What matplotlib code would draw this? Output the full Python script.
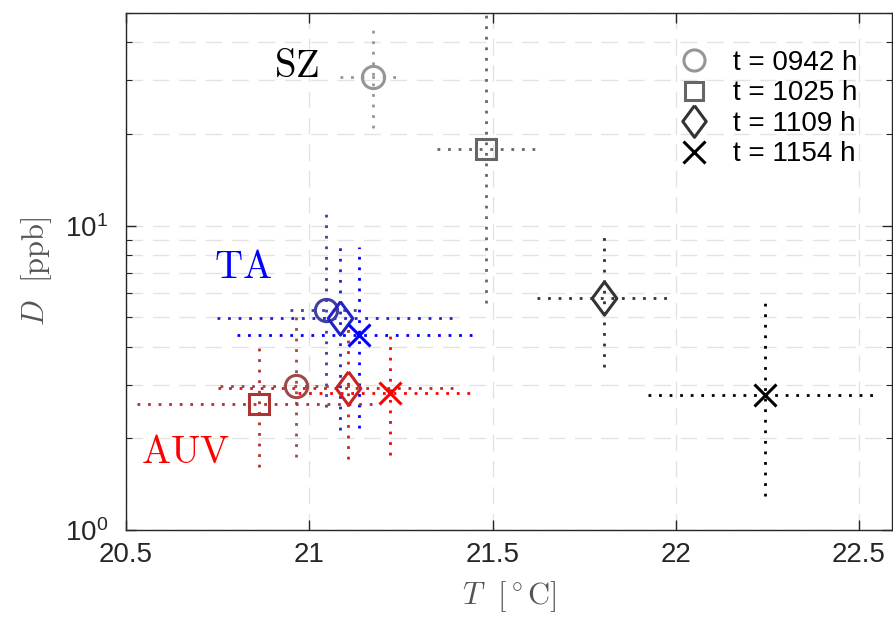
import numpy as np
import matplotlib
matplotlib.use('Agg')
import matplotlib.pyplot as plt
from matplotlib.lines import Line2D
from matplotlib.ticker import LogLocator, NullFormatter

plt.rcParams['font.family'] = ['Liberation Sans', 'DejaVu Sans']

# ---- data ----
times = ['0942', '1025', '1109', '1154']
nan = np.nan

sz_T = [21.174, 21.482, 21.804, 22.243]
sz_D = [30.9, 17.8, 5.8, 2.78]
sz_T_lo = [21.084, 21.349, 21.621, 21.924]
sz_T_hi = [21.248, 21.616, 21.990, 22.549]
sz_D_lo = [21.0, 5.58, 3.44, 1.29]
sz_D_hi = [44.1, 60.0, 9.48, 5.89]

ta_T = [21.045, nan, 21.084, 21.136]
ta_D = [5.3, nan, 4.98, 4.38]
ta_T_lo = [20.947, nan, 20.748, 20.803]
ta_T_hi = [21.133, nan, 21.403, 21.458]
ta_D_lo = [2.54, nan, 2.13, 2.16]
ta_D_hi = [10.9, nan, 8.53, 8.53]

auv_T = [20.963, 20.863, 21.105, 21.220]
auv_D = [2.98, 2.6, 2.93, 2.82]
auv_T_lo = [20.756, 20.530, 20.75, 20.97]
auv_T_hi = [21.152, 21.185, 21.40, 21.44]
auv_D_lo = [1.74, 1.61, 1.71, 1.77]
auv_D_hi = [5.17, 4.12, 4.72, 4.55]

# ---- styles ----
diamond = [(0, 1), (0.74, 0), (0, -1), (-0.74, 0), (0, 1)]
markers = ['o', 's', diamond, 'x']
msizes = [16, 14, 24, 16]
sz_colors = ['#969696', '#666666', '#333333', '#000000']
ta_colors = ['#40409c', '#2222cc', '#2222cc', '#0000ff']
auv_colors = ['#9c4a4a', '#b03333', '#c82222', '#ff0000']
dot = (0, (1, 2.8))

fig = plt.figure(figsize=(8.93, 6.2), dpi=100)
ax = fig.add_axes([0.1411, 0.1452, 0.8578, 0.8339])


def draw_group(T, D, Tlo, Thi, Dlo, Dhi, colors):
    for i in range(len(T)):
        if np.isnan(T[i]):
            continue
        c = colors[i]
        ax.plot([Tlo[i], Thi[i]], [D[i], D[i]], linestyle=dot, color=c, lw=2, zorder=2)
        ax.plot([T[i], T[i]], [Dlo[i], Dhi[i]], linestyle=dot, color=c, lw=2, zorder=2)
        ax.plot(T[i], D[i], linestyle='none', marker=markers[i], ms=msizes[i],
                mfc='none', mec=c, mew=2.2, zorder=3)


draw_group(sz_T, sz_D, sz_T_lo, sz_T_hi, sz_D_lo, sz_D_hi, sz_colors)
draw_group(ta_T, ta_D, ta_T_lo, ta_T_hi, ta_D_lo, ta_D_hi, ta_colors)
draw_group(auv_T, auv_D, auv_T_lo, auv_T_hi, auv_D_lo, auv_D_hi, auv_colors)

# group labels
ax.text(20.964, 33.3, r'$\mathrm{SZ}$', color='black', fontsize=28,
        ha='center', va='center', math_fontfamily='cm')
ax.text(20.819, 7.27, r'$\mathrm{TA}$', color='#0000ff', fontsize=28,
        ha='center', va='center', math_fontfamily='cm')
ax.text(20.661, 1.79, r'$\mathrm{AUV}$', color='#ff0000', fontsize=28,
        ha='center', va='center', math_fontfamily='cm')

ax.set_yscale('log')
ax.set_xlim(20.5, 22.59)
ax.set_ylim(1, 50)
ax.set_xticks([20.5, 21, 21.5, 22, 22.5])
ax.set_xticklabels(['20.5', '21', '21.5', '22', '22.5'])
ax.yaxis.set_major_locator(LogLocator(base=10))
ax.yaxis.set_minor_locator(LogLocator(base=10, subs=np.arange(2, 10)))
ax.yaxis.set_minor_formatter(NullFormatter())

ax.tick_params(which='both', direction='in', top=True, right=True,
               labelsize=20, colors='#262626')
ax.tick_params(which='major', length=7, width=1)
ax.tick_params(which='minor', length=4, width=0.8)
ax.tick_params(axis='x', pad=9)
ax.tick_params(axis='y', pad=13)
for s in ax.spines.values():
    s.set_color('#262626')
    s.set_linewidth(1)

ax.grid(True, which='major', axis='x', color='#e3e3e3', lw=1, ls=(0, (12, 7)))
ax.grid(True, which='both', axis='y', color='#e3e3e3', lw=1, ls=(0, (12, 7)))
ax.set_axisbelow(True)

ax.set_xlabel(r'$T\ \ [^\circ\mathrm{C}]$', fontsize=22, color='#555555',
              math_fontfamily='cm', labelpad=8)
ax.set_ylabel(r'$D\ \ [\mathrm{ppb}]$', fontsize=22, color='#555555',
              math_fontfamily='cm', labelpad=8)

# legend with gray markers
handles = []
for i in range(4):
    handles.append(Line2D([], [], linestyle='none', marker=markers[i], ms=msizes[i] * 0.95,
                          mfc='none', mec=sz_colors[i], mew=2.2))
labels = ['t = %s h' % t for t in times]
ax.legend(handles, labels, loc='upper right', bbox_to_anchor=(0.969, 0.95),
          frameon=False, fontsize=20, labelspacing=0.16, handletextpad=0.9,
          handlelength=1.0, borderaxespad=0)

fig.savefig('out.png', dpi=100)
